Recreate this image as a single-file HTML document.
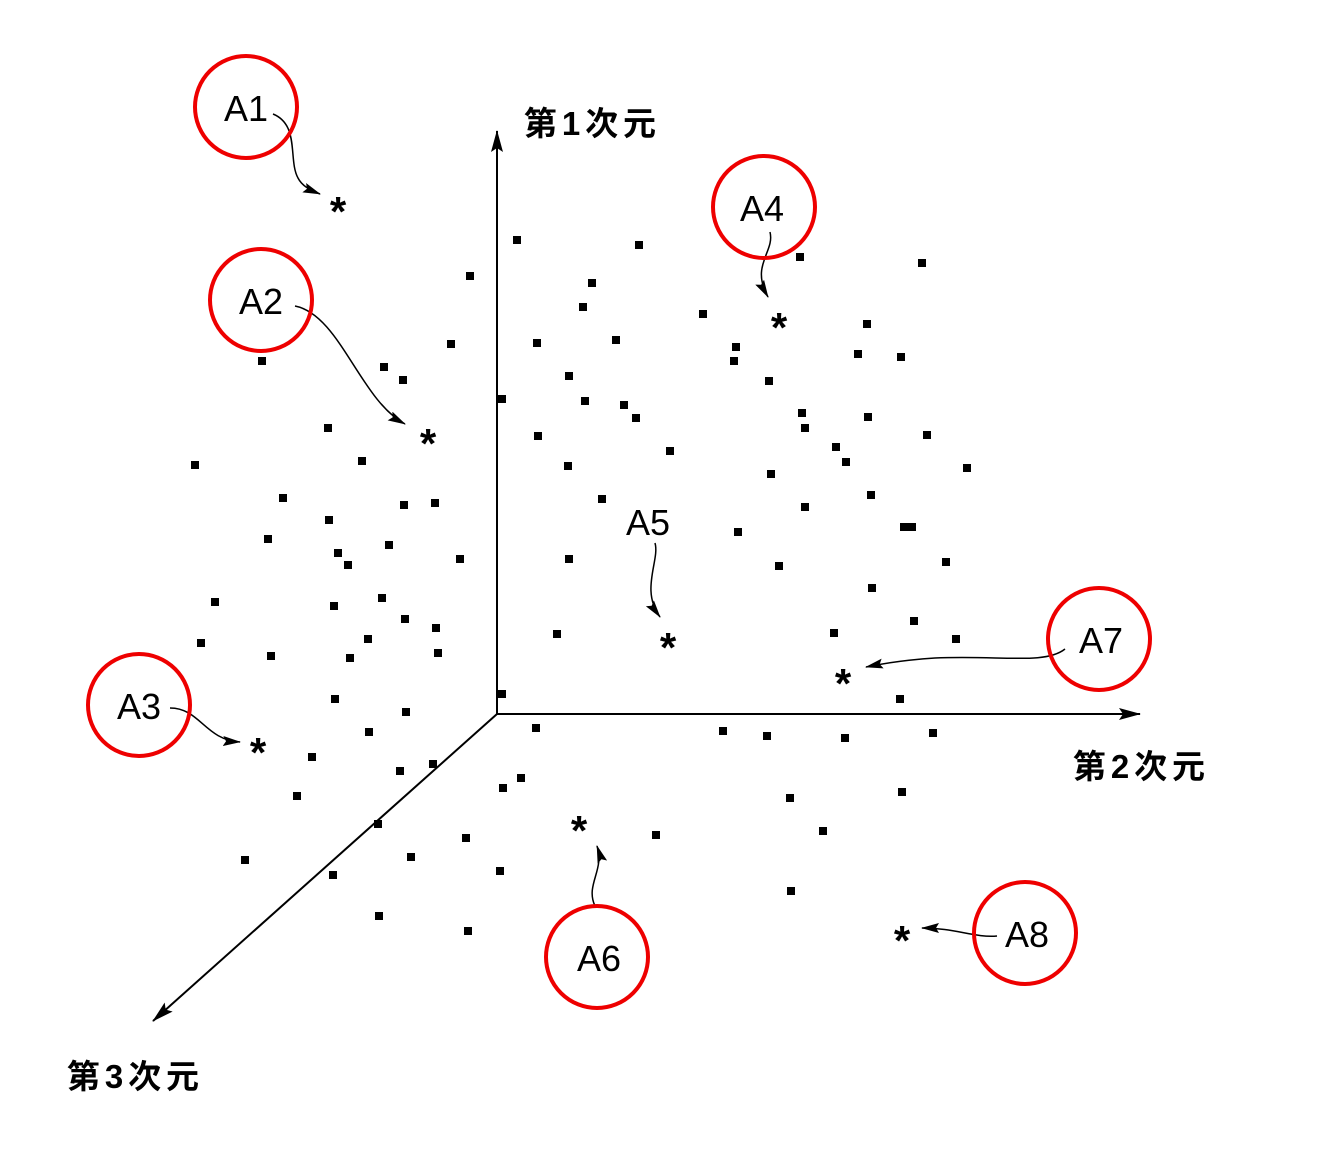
<!DOCTYPE html>
<html><head><meta charset="utf-8"><style>
html,body{margin:0;padding:0;background:#fff}
svg{display:block}
text{font-family:"Liberation Sans","Noto Sans CJK JP",sans-serif;fill:#000}
</style></head><body>
<svg width="1338" height="1166" viewBox="0 0 1338 1166" xmlns="http://www.w3.org/2000/svg">
<defs>
<marker id="ax" markerWidth="22" markerHeight="12" refX="21" refY="6" orient="auto" markerUnits="userSpaceOnUse">
<path d="M0,0 L22,6 L0,12 L4,6 Z" fill="#000"/></marker>
<marker id="ar" markerWidth="18" markerHeight="10" refX="17" refY="5" orient="auto" markerUnits="userSpaceOnUse">
<path d="M0,0 L18,5 L0,10 L3,5 Z" fill="#000"/></marker>
</defs>
<g stroke="#000" stroke-width="2" fill="none">
<line x1="497" y1="714" x2="497" y2="131" marker-end="url(#ax)"/>
<line x1="497" y1="714" x2="1140" y2="714" marker-end="url(#ax)"/>
<line x1="497" y1="714" x2="153" y2="1021" marker-end="url(#ax)"/>
</g>
<g fill="#000">
<rect x="466" y="272" width="8" height="8"/><rect x="447" y="340" width="8" height="8"/><rect x="258" y="357" width="8" height="8"/><rect x="380" y="363" width="8" height="8"/><rect x="399" y="376" width="8" height="8"/><rect x="324" y="424" width="8" height="8"/><rect x="358" y="457" width="8" height="8"/><rect x="191" y="461" width="8" height="8"/><rect x="279" y="494" width="8" height="8"/><rect x="400" y="501" width="8" height="8"/><rect x="431" y="499" width="8" height="8"/><rect x="325" y="516" width="8" height="8"/><rect x="264" y="535" width="8" height="8"/><rect x="385" y="541" width="8" height="8"/><rect x="334" y="549" width="8" height="8"/><rect x="344" y="561" width="8" height="8"/><rect x="456" y="555" width="8" height="8"/><rect x="211" y="598" width="8" height="8"/><rect x="378" y="594" width="8" height="8"/><rect x="330" y="602" width="8" height="8"/><rect x="401" y="615" width="8" height="8"/><rect x="432" y="624" width="8" height="8"/><rect x="197" y="639" width="8" height="8"/><rect x="364" y="635" width="8" height="8"/><rect x="267" y="652" width="8" height="8"/><rect x="346" y="654" width="8" height="8"/><rect x="434" y="649" width="8" height="8"/><rect x="331" y="695" width="8" height="8"/><rect x="402" y="708" width="8" height="8"/><rect x="365" y="728" width="8" height="8"/><rect x="308" y="753" width="8" height="8"/><rect x="396" y="767" width="8" height="8"/><rect x="429" y="760" width="8" height="8"/><rect x="293" y="792" width="8" height="8"/><rect x="374" y="820" width="8" height="8"/><rect x="241" y="856" width="8" height="8"/><rect x="329" y="871" width="8" height="8"/><rect x="407" y="853" width="8" height="8"/><rect x="375" y="912" width="8" height="8"/><rect x="462" y="834" width="8" height="8"/><rect x="464" y="927" width="8" height="8"/><rect x="496" y="867" width="8" height="8"/><rect x="499" y="784" width="8" height="8"/><rect x="517" y="774" width="8" height="8"/><rect x="532" y="724" width="8" height="8"/><rect x="498" y="690" width="8" height="8"/>
<rect x="513" y="236" width="8" height="8"/><rect x="635" y="241" width="8" height="8"/><rect x="588" y="279" width="8" height="8"/><rect x="579" y="303" width="8" height="8"/><rect x="533" y="339" width="8" height="8"/><rect x="612" y="336" width="8" height="8"/><rect x="699" y="310" width="8" height="8"/><rect x="796" y="253" width="8" height="8"/><rect x="918" y="259" width="8" height="8"/><rect x="863" y="320" width="8" height="8"/><rect x="854" y="350" width="8" height="8"/><rect x="897" y="353" width="8" height="8"/><rect x="732" y="343" width="8" height="8"/><rect x="730" y="357" width="8" height="8"/><rect x="565" y="372" width="8" height="8"/><rect x="498" y="395" width="8" height="8"/><rect x="581" y="397" width="8" height="8"/><rect x="620" y="401" width="8" height="8"/><rect x="632" y="414" width="8" height="8"/><rect x="765" y="377" width="8" height="8"/><rect x="798" y="409" width="8" height="8"/><rect x="801" y="424" width="8" height="8"/><rect x="864" y="413" width="8" height="8"/><rect x="923" y="431" width="8" height="8"/><rect x="832" y="443" width="8" height="8"/><rect x="842" y="458" width="8" height="8"/><rect x="963" y="464" width="8" height="8"/><rect x="534" y="432" width="8" height="8"/><rect x="564" y="462" width="8" height="8"/><rect x="666" y="447" width="8" height="8"/><rect x="767" y="470" width="8" height="8"/><rect x="867" y="491" width="8" height="8"/><rect x="598" y="495" width="8" height="8"/><rect x="801" y="503" width="8" height="8"/><rect x="734" y="528" width="8" height="8"/><rect x="900" y="523" width="8" height="8"/><rect x="908" y="523" width="8" height="8"/><rect x="565" y="555" width="8" height="8"/><rect x="775" y="562" width="8" height="8"/><rect x="942" y="558" width="8" height="8"/><rect x="868" y="584" width="8" height="8"/><rect x="910" y="617" width="8" height="8"/><rect x="553" y="630" width="8" height="8"/><rect x="830" y="629" width="8" height="8"/><rect x="952" y="635" width="8" height="8"/><rect x="896" y="695" width="8" height="8"/><rect x="719" y="727" width="8" height="8"/><rect x="763" y="732" width="8" height="8"/><rect x="841" y="734" width="8" height="8"/><rect x="929" y="729" width="8" height="8"/><rect x="786" y="794" width="8" height="8"/><rect x="898" y="788" width="8" height="8"/><rect x="819" y="827" width="8" height="8"/><rect x="652" y="831" width="8" height="8"/><rect x="787" y="887" width="8" height="8"/>
</g>
<g stroke="#000" stroke-width="1.5" fill="none">
<path d="M273,114 C300,125 288,160 298,178 C302,186 310,190 320,194" marker-end="url(#ar)"/>
<path d="M295,306 C340,315 360,400 405,424" marker-end="url(#ar)"/>
<path d="M170,708 C200,708 205,740 240,742" marker-end="url(#ar)"/>
<path d="M770,232 C775,252 750,265 768,297" marker-end="url(#ar)"/>
<path d="M655,543 C660,560 640,590 660,617" marker-end="url(#ar)"/>
<path d="M1065,649 C1045,665 1000,655 935,658 C905,660 885,663 866,667" marker-end="url(#ar)"/>
<path d="M595,906 C585,885 605,870 597,846" marker-end="url(#ar)"/>
<path d="M997,936 C975,938 955,928 922,928" marker-end="url(#ar)"/>
</g>
<g fill="none" stroke="#e00" stroke-width="4">
<circle cx="246" cy="107" r="51"/>
<circle cx="261" cy="300" r="51"/>
<circle cx="139" cy="705" r="51"/>
<circle cx="764" cy="207" r="51"/>
<circle cx="1099" cy="639" r="51"/>
<circle cx="597" cy="957" r="51"/>
<circle cx="1025" cy="933" r="51"/>
</g>
<g font-size="36" text-anchor="middle">
<text x="246" y="121">A1</text>
<text x="261" y="314">A2</text>
<text x="139" y="719">A3</text>
<text x="762" y="221">A4</text>
<text x="648" y="535">A5</text>
<text x="1101" y="653">A7</text>
<text x="599" y="971">A6</text>
<text x="1027" y="947">A8</text>
</g>
<g font-size="42" text-anchor="middle" font-weight="bold">
<text x="338" y="226">*</text>
<text x="428" y="458">*</text>
<text x="258" y="767">*</text>
<text x="779" y="342">*</text>
<text x="668" y="662">*</text>
<text x="843" y="698">*</text>
<text x="579" y="845">*</text>
<text x="902" y="955">*</text>
</g>
<g font-size="33" font-weight="bold">
<text x="524" y="135" textLength="132">第1次元</text>
<text x="1073" y="778" textLength="132">第2次元</text>
<text x="67" y="1088" textLength="132">第3次元</text>
</g>
</svg>
</body></html>
